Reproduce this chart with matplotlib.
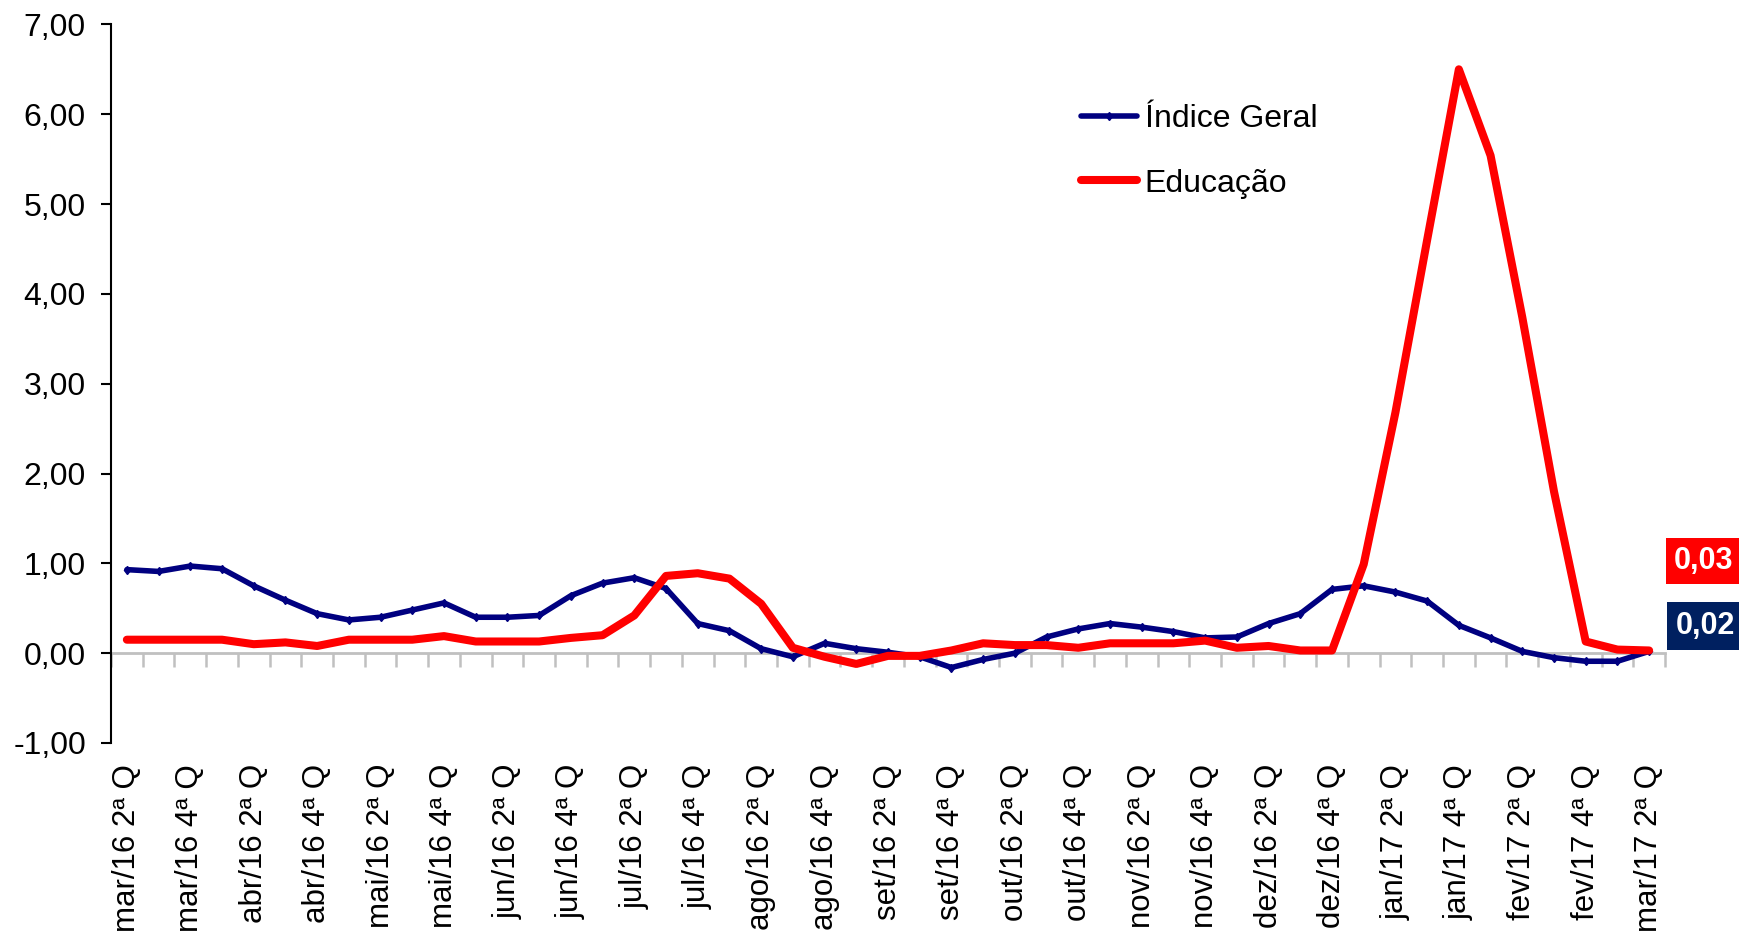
import numpy as np
import matplotlib
matplotlib.use("Agg")
import matplotlib.pyplot as plt
from matplotlib.ticker import FuncFormatter

plt.rcParams['font.family'] = ['Liberation Sans', 'DejaVu Sans']

# ---- data ----
months = ["mar/16", "abr/16", "mai/16", "jun/16", "jul/16", "ago/16", "set/16",
          "out/16", "nov/16", "dez/16", "jan/17", "fev/17", "mar/17"]
categories = []
for m_i, m in enumerate(months):
    for q in (1, 2, 3, 4):
        if m_i == 0 and q < 2:
            continue
        if m_i == len(months) - 1 and q > 2:
            continue
        categories.append(f"{m} {q}ª Q")

indice_geral = [0.93, 0.91, 0.97, 0.94, 0.75, 0.59, 0.44, 0.37, 0.40, 0.48,
                0.56, 0.40, 0.40, 0.42, 0.64, 0.78, 0.84, 0.72, 0.33, 0.25,
                0.05, -0.04, 0.11, 0.05, 0.01, -0.04, -0.16, -0.07, 0.00, 0.18,
                0.27, 0.33, 0.29, 0.24, 0.17, 0.18, 0.33, 0.44, 0.71, 0.75,
                0.68, 0.58, 0.31, 0.17, 0.02, -0.05, -0.09, -0.09, 0.02]
educacao = [0.15, 0.15, 0.15, 0.15, 0.10, 0.12, 0.08, 0.15, 0.15, 0.15,
            0.19, 0.13, 0.13, 0.13, 0.17, 0.20, 0.42, 0.86, 0.89, 0.83,
            0.55, 0.06, -0.04, -0.12, -0.03, -0.03, 0.03, 0.11, 0.09, 0.09,
            0.06, 0.11, 0.11, 0.11, 0.14, 0.06, 0.08, 0.03, 0.03, 0.99,
            2.68, 4.60, 6.50, 5.54, 3.74, 1.80, 0.13, 0.04, 0.03]
last_labels = ["0,03", "0,02"]  # Educação, Índice Geral
yticks = [-1, 0, 1, 2, 3, 4, 5, 6, 7]

W, H = 1739, 934
fig = plt.figure(figsize=(W / 100, H / 100), dpi=100)
left, right, top, bottom = 111, 1665, 24.4, 743
ax = fig.add_axes([left / W, 1 - bottom / H, (right - left) / W, (bottom - top) / H])

x = np.arange(len(categories))
ax.plot(x, indice_geral, color='#000080', lw=4.0, marker='d', ms=4.5,
        label='Índice Geral', solid_joinstyle='round', solid_capstyle='round', zorder=3)
ax.plot(x, educacao, color='#FF0000', lw=5.8, label='Educação',
        solid_joinstyle='round', solid_capstyle='round', zorder=4)

ax.set_xlim(-0.5, len(categories) - 0.5)
ax.set_ylim(-1, 7)
ax.set_yticks(yticks)
ax.yaxis.set_major_formatter(FuncFormatter(lambda v, p: f"{v:.2f}".replace('.', ',')))
ax.tick_params(axis='y', direction='out', length=7, width=1.5, labelsize=23, pad=11)

for s in ('top', 'right', 'bottom'):
    ax.spines[s].set_visible(False)
ax.spines['left'].set_linewidth(1.5)

ax.set_xticks(x[::2])
ax.set_xticklabels(categories[::2], rotation=90, fontsize=22.5, va='top')
ax.tick_params(axis='x', length=0, pad=15)

# category axis at zero with gray boundary ticks
sec = ax.secondary_xaxis(0, transform=ax.transData)
sec.set_xticks(np.arange(-0.5, len(categories), 1.0))
sec.tick_params(axis='x', direction='out', length=10, width=1.8, color='#C0C0C0',
                labelbottom=False)
sec.spines['bottom'].set_color('#C0C0C0')
sec.spines['bottom'].set_linewidth(2)

leg = ax.legend(loc='upper left', bbox_to_anchor=(0.624, 0.889), frameon=False,
                fontsize=23, handlelength=1.75, handletextpad=0.25,
                labelspacing=1.08, borderpad=0, borderaxespad=0)

# value boxes on the right
fig.text(1674 / W, 1 - 561 / H, last_labels[0], color='white', fontsize=22,
         fontweight='bold', ha='left', va='center',
         bbox=dict(boxstyle='square,pad=0.25', fc='#FF0000', ec='none'))
fig.text(1676 / W, 1 - 626 / H, last_labels[1], color='white', fontsize=22,
         fontweight='bold', ha='left', va='center',
         bbox=dict(boxstyle='square,pad=0.3', fc='#002060', ec='none'))

fig.savefig('out.png', dpi=100)
